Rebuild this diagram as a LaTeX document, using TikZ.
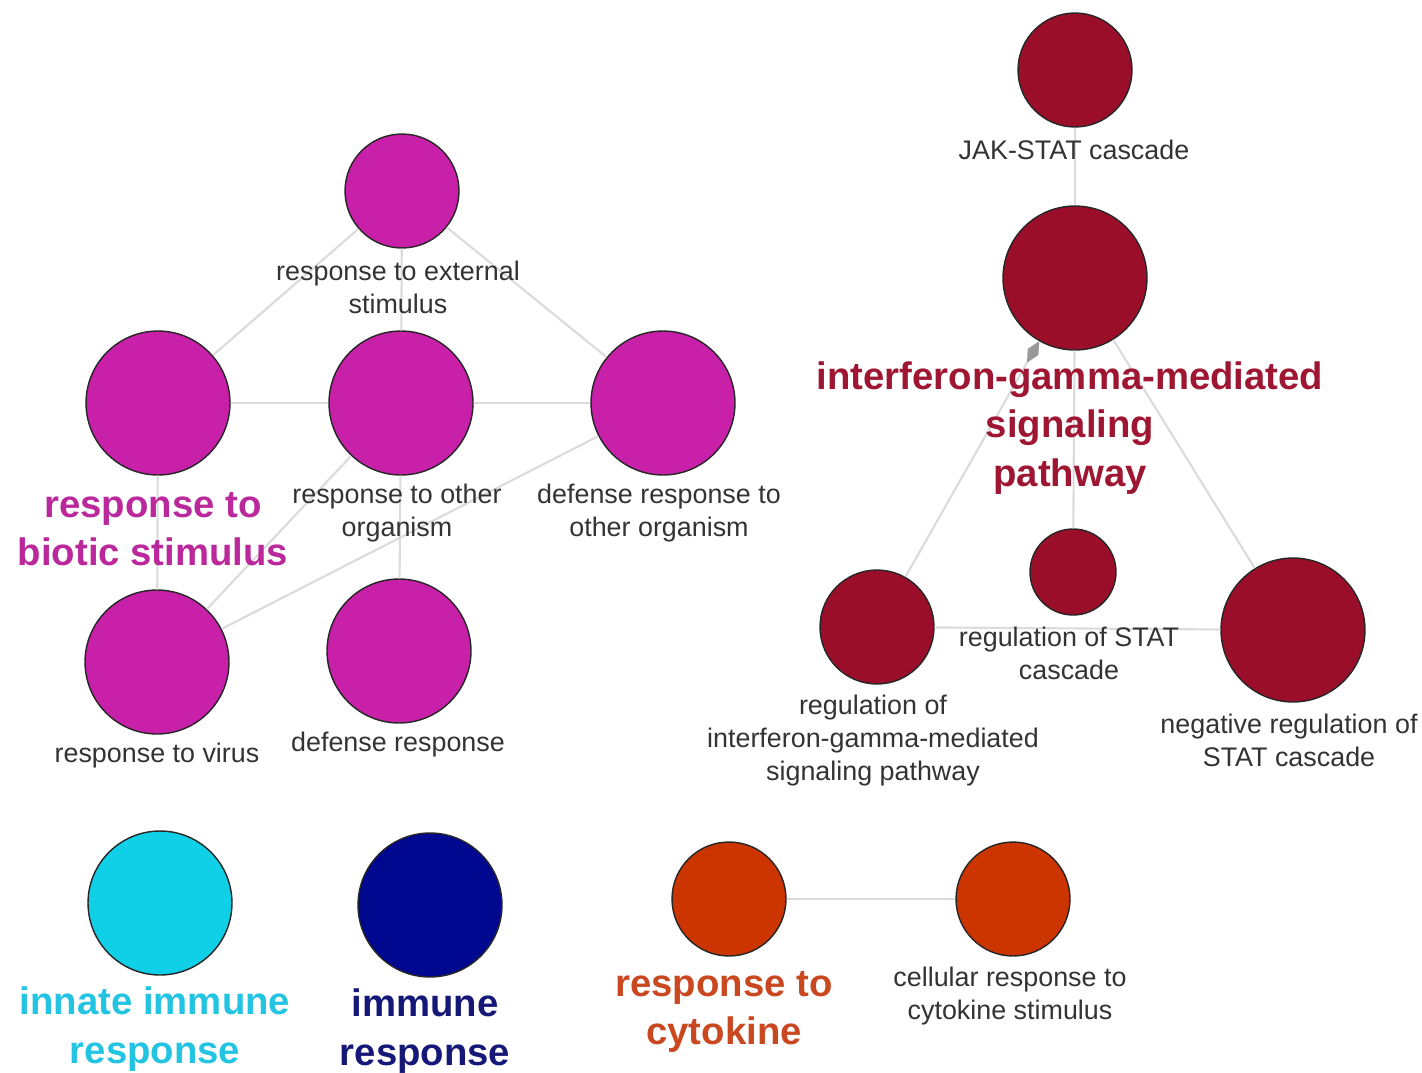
\documentclass[tikz,border=0pt]{standalone}
\usepackage{fontspec}
\setmainfont{Liberation Sans}
\usetikzlibrary{arrows.meta}
\definecolor{bioticfill}{RGB}{200,32,168}
\definecolor{biotictext}{RGB}{186,40,156}
\definecolor{ifnfill}{RGB}{155,14,42}
\definecolor{ifntext}{RGB}{158,22,50}
\definecolor{innatefill}{RGB}{16,208,232}
\definecolor{innatetext}{RGB}{34,196,226}
\definecolor{immunefill}{RGB}{0,8,144}
\definecolor{immunetext}{RGB}{22,24,120}
\definecolor{cytofill}{RGB}{204,52,0}
\definecolor{cytotext}{RGB}{202,72,32}
\tikzset{
	goterm/.style={circle, draw=black!85, line width=0.8pt, inner sep=0pt},
	bigterm/.style={goterm, minimum size=2.88cm},
	midterm/.style={goterm, minimum size=2.28cm},
	smallterm/.style={goterm, minimum size=1.72cm},
	golabel/.style={align=center, text=black!80, font=\fontsize{15.3}{18.8}\selectfont},
	leadlabel/.style={align=center, font=\bfseries\fontsize{21.8}{27.6}\selectfont},
	golink/.style={draw=black!14, line width=1.2pt}
}

\begin{document}
\begin{tikzpicture}[x=0.02cm, y=-0.02cm]
				\useasboundingbox (0,0) rectangle (1422,1072);
				
				\node[midterm, fill=bioticfill] (ext) at (402,191) {};
				\node[bigterm, fill=bioticfill] (biotic) at (158,403) {};
				\node[bigterm, fill=bioticfill] (other) at (401,403) {};
				\node[bigterm, fill=bioticfill] (defother) at (663,403) {};
				\node[bigterm, fill=bioticfill] (virus) at (157,662) {};
				\node[bigterm, fill=bioticfill] (defense) at (399,651) {};
				
				\node[midterm, fill=ifnfill] (jak) at (1075,70) {};
				\node[bigterm, fill=ifnfill] (ifn) at (1075,278) {};
				\node[smallterm, fill=ifnfill] (stat) at (1073,572) {};
				\node[midterm, fill=ifnfill] (regifn) at (877,627) {};
				\node[bigterm, fill=ifnfill] (negstat) at (1293,630) {};
				
				\node[bigterm, fill=innatefill] (innate) at (160,903) {};
				\node[bigterm, fill=immunefill] (immune) at (430,905) {};
				\node[midterm, fill=cytofill] (cyto) at (729,899) {};
				\node[midterm, fill=cytofill] (cellcyto) at (1013,899) {};
				
				\draw[golink] (ext) -- (biotic);
				\draw[golink] (ext) -- (other);
				\draw[golink] (ext) -- (defother);
				\draw[golink] (biotic) -- (other);
				\draw[golink] (other) -- (defother);
				\draw[golink] (biotic) -- (virus);
				\draw[golink] (other) -- (virus);
				\draw[golink] (defother) -- (virus);
				\draw[golink] (other) -- (defense);
				
				\draw[golink] (jak) -- (ifn);
				\draw[golink] (ifn) -- (stat);
				\draw[golink] (ifn) -- (negstat);
				\draw[golink] (regifn) -- (negstat);
				\draw[golink, -{Diamond[length=14pt, width=7pt, color=black!40, fill=black!40]}] (regifn) -- (ifn);
				
				\draw[golink] (cyto) -- (cellcyto);
				
				\node[golabel] (ext-l) at (398,287) {response to external\\stimulus};
				\node[leadlabel, text=biotictext] (biotic-l) at (153,529) {response to\\biotic stimulus};
				\node[golabel] (other-l) at (397,513) {response to other\\organism};
				\node[golabel] (defother-l) at (659,513) {defense response to\\other organism};
				\node[golabel] (virus-l) at (157,756) {response to virus};
				\node[golabel] (defense-l) at (398,745) {defense response};
				
				\node[golabel] (jak-l) at (1074,150) {JAK-STAT cascade};
				\node[leadlabel, text=ifntext] (ifn-l) at (1070,428) {interferon-gamma-mediated\\signaling\\pathway};
				\node[golabel] (stat-l) at (1069,653) {regulation of STAT\\cascade};
				\node[golabel] (regifn-l) at (873,741) {regulation of\\interferon-gamma-mediated\\signaling pathway};
				\node[golabel] (negstat-l) at (1289,740) {negative regulation of\\STAT cascade};
				
				\node[leadlabel, text=innatetext] (innate-l) at (155,1029) {innate immune\\response};
				\node[leadlabel, text=immunetext] (immune-l) at (425,1031) {immune\\response};
				\node[leadlabel, text=cytotext] (cyto-l) at (724,1012) {response to\\cytokine};
				\node[golabel] (cellcyto-l) at (1010,996) {cellular response to\\cytokine stimulus};
			\end{tikzpicture}
\end{document}
